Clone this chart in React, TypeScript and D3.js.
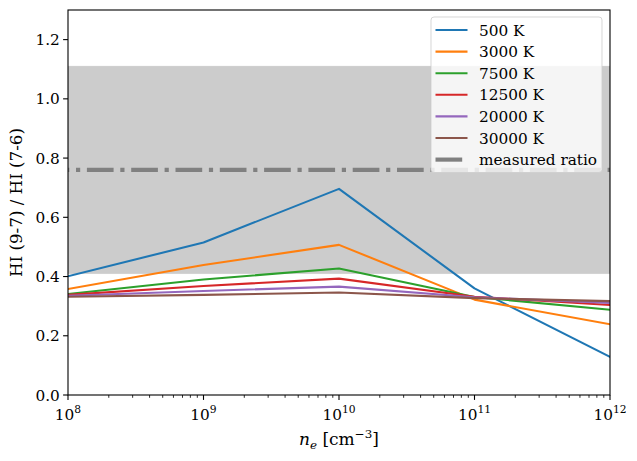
import React from "react";
import * as d3 from "d3";

const densities = [1e8, 1e9, 1e10, 1e11, 1e12];
const t500 = [0.401, 0.515, 0.696, 0.36, 0.129];
const t3000 = [0.358, 0.439, 0.507, 0.322, 0.239];
const t7500 = [0.341, 0.39, 0.427, 0.331, 0.288];
const t12500 = [0.338, 0.368, 0.393, 0.332, 0.304];
const t20000 = [0.335, 0.351, 0.366, 0.33, 0.311];
const t30000 = [0.332, 0.338, 0.346, 0.327, 0.317];
const seriesNames = ["500 K", "3000 K", "7500 K", "12500 K", "20000 K", "30000 K"];
const seriesValues = [t500, t3000, t7500, t12500, t20000, t30000];
const colors = ["#1f77b4", "#ff7f0e", "#2ca02c", "#d62728", "#9467bd", "#8c564b"];
const measuredRatio = 0.76;
const bandLow = 0.41;
const bandHigh = 1.11;
const yTicks = [0, 0.2, 0.4, 0.6, 0.8, 1.0, 1.2];
const xTickExps = [8, 9, 10, 11, 12];

const W = 637;
const H = 461;
const L = 68;
const R = 610;
const T = 10;
const B = 395;
const FONT = "DejaVu Serif";
const TICK_FS = 15.3;

export default function App() {
  const x = d3.scaleLog().domain([1e8, 1e12]).range([L, R]);
  const y = d3.scaleLinear().domain([0, 1.3]).range([B, T]);
  const line = d3
    .line<number>()
    .x((_, i) => x(densities[i]))
    .y((d) => y(d));

  const minor: number[] = [];
  for (let e = 8; e < 12; e++) {
    for (let m = 2; m <= 9; m++) minor.push(m * Math.pow(10, e));
  }

  const legendX = 431;
  const legendY = 17;
  const rowH = 21.6;
  const legendItems = [...seriesNames, "measured ratio"];

  return (
    <svg
      width={W}
      height={H}
      style={{ position: "absolute", left: 0, top: 0, background: "#fff", fontFamily: FONT }}
    >
      <defs>
        <clipPath id="plot">
          <rect x={L} y={T} width={R - L} height={B - T} />
        </clipPath>
      </defs>
      <rect x={0} y={0} width={W} height={H} fill="#fff" />
      <g clipPath="url(#plot)">
        <rect
          x={L}
          y={y(bandHigh)}
          width={R - L}
          height={y(bandLow) - y(bandHigh)}
          fill="#808080"
          fillOpacity={0.4}
          stroke="#808080"
          strokeOpacity={0.15}
          strokeWidth={1}
        />
        {seriesValues.map((vals, i) => (
          <path
            key={i}
            d={line(vals) || ""}
            fill="none"
            stroke={colors[i]}
            strokeWidth={2.08}
            strokeLinejoin="round"
            strokeLinecap="square"
          />
        ))}
        <line
          x1={L}
          x2={R}
          y1={y(measuredRatio)}
          y2={y(measuredRatio)}
          stroke="#808080"
          strokeWidth={4.17}
          strokeDasharray="26.7 6.7 4.2 6.7"
          strokeDashoffset={25.4}
        />
      </g>
      <rect x={L} y={T} width={R - L} height={B - T} fill="none" stroke="#000" strokeWidth={1.1} />
      {yTicks.map((t) => (
        <g key={t}>
          <line x1={L} x2={L - 4.9} y1={y(t)} y2={y(t)} stroke="#000" strokeWidth={1.1} />
          <text
            x={L - 8.2}
            y={y(t)}
            dy="0.36em"
            textAnchor="end"
            fontSize={TICK_FS}
            fill="#000"
            style={{ fontFamily: FONT }}
          >
            {t.toFixed(1)}
          </text>
        </g>
      ))}
      {minor.map((v) => (
        <line key={v} x1={x(v)} x2={x(v)} y1={B} y2={B + 2.8} stroke="#000" strokeWidth={0.83} />
      ))}
      {xTickExps.map((e) => (
        <g key={e}>
          <line
            x1={x(Math.pow(10, e))}
            x2={x(Math.pow(10, e))}
            y1={B}
            y2={B + 4.9}
            stroke="#000"
            strokeWidth={1.1}
          />
          <text
            x={x(Math.pow(10, e))}
            y={420}
            textAnchor="middle"
            fontSize={TICK_FS}
            fill="#000"
            style={{ fontFamily: FONT }}
          >
            10
            <tspan dy={-7} fontSize={10.7}>
              {e}
            </tspan>
          </text>
        </g>
      ))}
      <text
        x={(L + R) / 2}
        y={445}
        textAnchor="middle"
        fontSize={17}
        fill="#000"
        style={{ fontFamily: FONT }}
      >
        <tspan fontStyle="italic">n</tspan>
        <tspan fontStyle="italic" fontSize={11.9} dy={3.5}>
          e
        </tspan>
        <tspan dy={-3.5}> [cm</tspan>
        <tspan fontSize={11.9} dy={-7}>
          −3
        </tspan>
        <tspan dy={7}>]</tspan>
      </text>
      <text
        transform={`translate(22,${(T + B) / 2}) rotate(-90)`}
        textAnchor="middle"
        fontSize={16.7}
        fill="#000"
        style={{ fontFamily: FONT }}
      >
        HI (9-7) / HI (7-6)
      </text>
      <rect
        x={legendX}
        y={legendY}
        width={171}
        height={155.5}
        rx={3}
        ry={3}
        fill="#fff"
        fillOpacity={0.8}
        stroke="#cccccc"
        strokeOpacity={0.8}
        strokeWidth={1}
      />
      {legendItems.map((name, i) => {
        const cy = 30 + i * rowH;
        const isMeasured = i === seriesNames.length;
        return (
          <g key={name}>
            <line
              x1={435.5}
              x2={467.5}
              y1={cy}
              y2={cy}
              stroke={isMeasured ? "#808080" : colors[i]}
              strokeWidth={isMeasured ? 4.17 : 2.08}
              strokeDasharray={isMeasured ? "26.7 6.7 4.2 6.7" : undefined}
            />
            <text x={479} y={cy} dy="0.36em" fontSize={TICK_FS} fill="#000" style={{ fontFamily: FONT }}>
              {name}
            </text>
          </g>
        );
      })}
    </svg>
  );
}
